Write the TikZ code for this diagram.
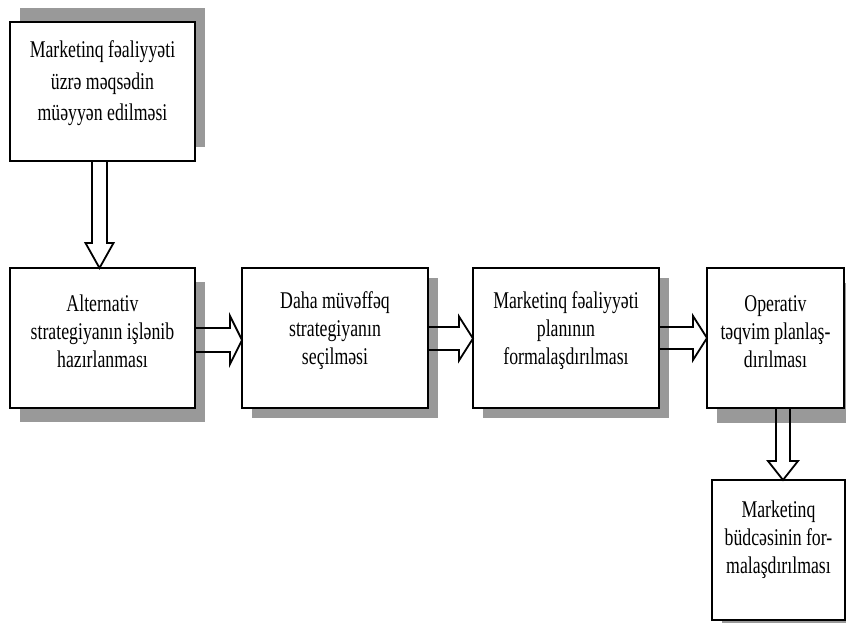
\documentclass[tikz,border=0pt]{standalone}
\usepackage{fontspec}
\setmainfont{Liberation Serif}[FakeStretch=0.74]
\usetikzlibrary{calc,backgrounds}
\definecolor{shadowgray}{HTML}{999999}
\tikzset{
  boxnode/.style={draw=black, line width=2.2pt, fill=white, inner sep=0pt, outer sep=0pt},
  txtnode/.style={align=center, inner sep=0pt, font=\fontsize{24}{28}\selectfont},
  shadowfill/.style={fill=shadowgray},
  blk/.style={draw=black, line width=1.8pt, line join=miter}
}
\begin{document}
\begin{tikzpicture}[x=1pt,y=-1pt]
\useasboundingbox (0,0) rectangle (846,625);

% boxes
\node[boxnode, minimum width=185pt, minimum height=139pt] (b1) at (102.5,91.5) {};
\node[boxnode, minimum width=185pt, minimum height=140pt] (b2) at (102.5,338) {};
\node[boxnode, minimum width=186pt, minimum height=140pt] (b3) at (335,338) {};
\node[boxnode, minimum width=186pt, minimum height=140pt] (b4) at (566,338) {};
\node[boxnode, minimum width=137pt, minimum height=140pt] (b5) at (775.5,338) {};
\node[boxnode, minimum width=133pt, minimum height=140pt] (b6) at (778.5,550) {};

% shadows
\begin{scope}[on background layer]
\fill[shadowfill] ($(b1.south west)+(10,-14)$) rectangle ($(b1.north east)+(10,-14)$);
\fill[shadowfill] ($(b2.south west)+(10,14)$) rectangle ($(b2.north east)+(10,14)$);
\fill[shadowfill] ($(b3.south west)+(10,10)$) rectangle ($(b3.north east)+(10,10)$);
\fill[shadowfill] ($(b4.south west)+(10,10)$) rectangle ($(b4.north east)+(10,10)$);
\fill[shadowfill] ($(b5.south west)+(10,15)$) rectangle ($(b5.north east)+(10,15)$);
\fill[shadowfill] ($(b6.south west)+(10,3)$) rectangle ($(b6.north east)+(10,3)$);
\end{scope}

% texts
\node[txtnode, font=\fontsize{24}{31.5}\selectfont] (t1) at ([yshift=8pt]b1.center) {Marketinq fəaliyyəti\\üzrə məqsədin\\müəyyən edilməsi};
\node[txtnode] (t2) at ([yshift=7pt]b2.center) {Alternativ\\strategiyanın işlənib\\hazırlanması};
\node[txtnode] (t3) at ([yshift=7pt]b3.center) {Daha müvəffəq\\strategiyanın\\seçilməsi};
\node[txtnode] (t4) at ([yshift=7pt]b4.center) {Marketinq fəaliyyəti\\planının\\formalaşdırılması};
\node[txtnode] (t5) at ([yshift=6pt]b5.center) {Operativ\\təqvim planlaş-\\dırılması};
\node[txtnode] (t6) at ([yshift=10pt]b6.center) {Marketinq\\büdcəsinin for-\\malaşdırılması};

% arrow 1 (down)
\coordinate (a1s) at ($(b1.south)+(-3,0)$);
\coordinate (a1e) at (a1s |- b2.north);
\draw[blk] ($(a1s)+(-7.5,0)$) -- ($(a1e)+(-7.5,-25)$) -- ($(a1e)+(-14,-25)$) -- (a1e)
  -- ($(a1e)+(14,-25)$) -- ($(a1e)+(7.5,-25)$) -- ($(a1s)+(7.5,0)$);

% arrow 2 (right)
\coordinate (a2s) at ($(b2.east)+(0,2)$);
\coordinate (a2e) at (a2s -| b3.west);
\draw[blk] ($(a2s)+(0,-12)$) -- ($(a2e)+(-12,-12)$) -- ($(a2e)+(-12,-24)$) -- (a2e)
  -- ($(a2e)+(-12,24)$) -- ($(a2e)+(-12,12)$) -- ($(a2s)+(0,12)$);

% arrow 3 (right)
\coordinate (a3s) at ($(b3.east)+(0,0.5)$);
\coordinate (a3e) at (a3s -| b4.west);
\draw[blk] ($(a3s)+(0,-11.5)$) -- ($(a3e)+(-14,-11.5)$) -- ($(a3e)+(-14,-22)$) -- (a3e)
  -- ($(a3e)+(-14,22)$) -- ($(a3e)+(-14,11.5)$) -- ($(a3s)+(0,11.5)$);

% arrow 4 (right)
\coordinate (a4s) at ($(b4.east)+(0,0)$);
\coordinate (a4e) at (a4s -| b5.west);
\draw[blk] ($(a4s)+(0,-11)$) -- ($(a4e)+(-14,-11)$) -- ($(a4e)+(-14,-22)$) -- (a4e)
  -- ($(a4e)+(-14,22)$) -- ($(a4e)+(-14,11)$) -- ($(a4s)+(0,11)$);

% arrow 5 (down)
\coordinate (a5s) at ($(b5.south)+(7.5,0)$);
\coordinate (a5e) at (a5s |- b6.north);
\draw[blk] ($(a5s)+(-7,0)$) -- ($(a5e)+(-7,-19)$) -- ($(a5e)+(-15,-19)$) -- (a5e)
  -- ($(a5e)+(15,-19)$) -- ($(a5e)+(7,-19)$) -- ($(a5s)+(7,0)$);
\end{tikzpicture}
\end{document}
